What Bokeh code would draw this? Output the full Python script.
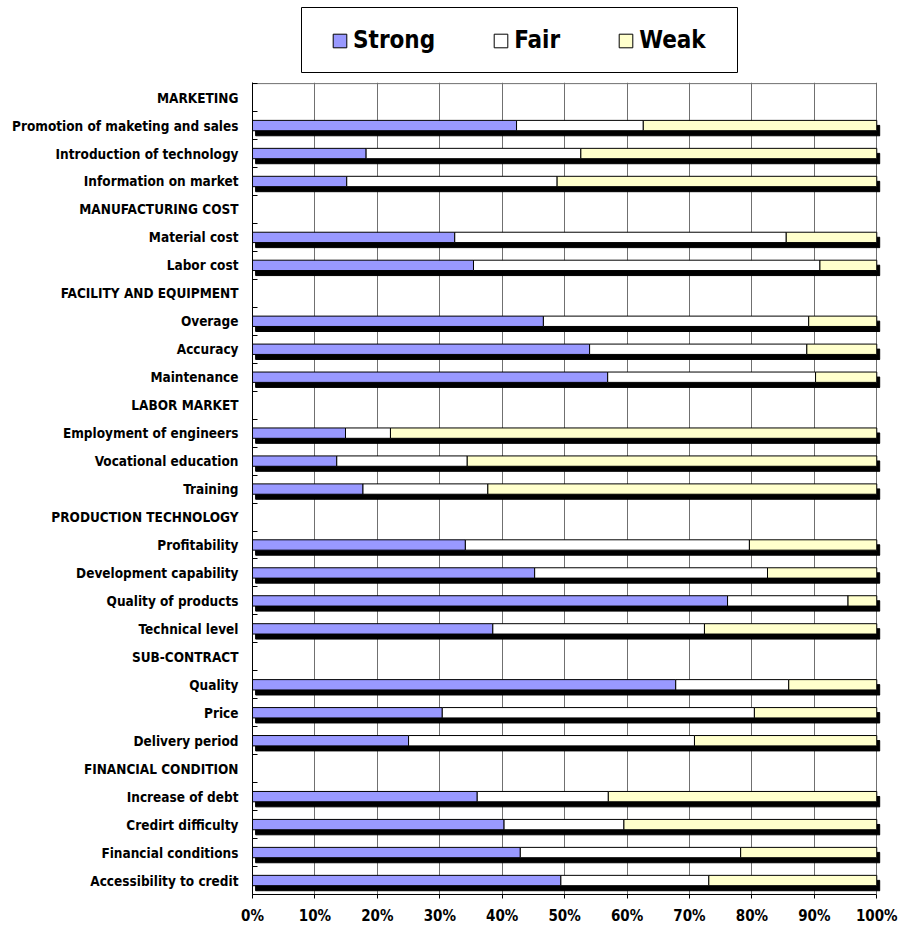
from bokeh.plotting import figure
from bokeh.layouts import column
from bokeh.models import (ColumnDataSource, FixedTicker, PrintfTickFormatter,
                          Legend, LegendItem, Range1d)
from bokeh.embed import file_html
from bokeh.resources import INLINE

# ---------------- data ----------------
rows = [
    "MARKETING",
    "Promotion of maketing and sales",
    "Introduction of technology",
    "Information on market",
    "MANUFACTURING COST",
    "Material cost",
    "Labor cost",
    "FACILITY AND EQUIPMENT",
    "Overage",
    "Accuracy",
    "Maintenance",
    "LABOR MARKET",
    "Employment of engineers",
    "Vocational education",
    "Training",
    "PRODUCTION TECHNOLOGY",
    "Profitability",
    "Development capability",
    "Quality of products",
    "Technical level",
    "SUB-CONTRACT",
    "Quality",
    "Price",
    "Delivery period",
    "FINANCIAL CONDITION",
    "Increase of debt",
    "Credirt difficulty",
    "Financial conditions",
    "Accessibility to credit",
]
groups = ["MARKETING", "MANUFACTURING COST", "FACILITY AND EQUIPMENT",
          "LABOR MARKET", "PRODUCTION TECHNOLOGY", "SUB-CONTRACT",
          "FINANCIAL CONDITION"]

series_names = ["Strong", "Fair", "Weak"]
# values (%) for the non-header rows, top to bottom
strong = [42.3, 18.2, 15.1, 32.4, 35.4, 46.6, 54.0, 56.9, 14.9, 13.5, 17.7,
          34.1, 45.2, 76.1, 38.5, 67.8, 30.4, 25.0, 36.0, 40.3, 42.9, 49.4]
fair = [20.3, 34.4, 33.7, 53.1, 55.5, 42.5, 34.8, 33.3, 7.2, 20.9, 20.0,
        45.5, 37.3, 19.3, 33.9, 18.1, 50.0, 45.8, 21.0, 19.2, 35.3, 23.7]
weak = [37.4, 47.4, 51.2, 14.5, 9.1, 10.9, 11.2, 9.8, 77.9, 65.6, 62.3,
        20.4, 17.5, 4.6, 27.6, 14.1, 19.6, 29.2, 43.0, 40.5, 21.8, 26.9]

x_ticks = [0, 10, 20, 30, 40, 50, 60, 70, 80, 90, 100]

# ---------------- styling ----------------
FONT = "DejaVu Sans Condensed"
C_STRONG = "#9999FF"
C_FAIR = "#FFFFFF"
C_WEAK = "#FFFFCC"
BAR_H = 0.37
SHADOW_DY = 0.18     # ~5 px down
SHADOW_DX = 0.5      # ~3 px right
W = 898
LEG_H = 82
MAIN_H = 937 - LEG_H
B_LEFT = 252
B_RIGHT = 18

n = len(rows)
item_rows = [i for i, r in enumerate(rows) if r not in groups]
ycent = [n - i - 0.5 for i in item_rows]

s_l = [0.0] * len(strong)
s_r = [a for a in strong]
f_l = s_r
f_r = [a + b for a, b in zip(strong, fair)]
w_l = f_r
w_r = [a + b + c for a, b, c in zip(strong, fair, weak)]

src = ColumnDataSource(dict(
    y=ycent, s_l=s_l, s_r=s_r, f_l=f_l, f_r=f_r, w_l=w_l, w_r=w_r,
    sh_y=[y - SHADOW_DY for y in ycent],
    sh_l=[v + SHADOW_DX for v in s_l],
    sh_r=[v + SHADOW_DX for v in w_r],
))

# ---------------- main chart ----------------
p = figure(width=W, height=MAIN_H, output_backend="svg", toolbar_location=None,
           x_range=Range1d(0, 100.6), y_range=Range1d(0, n + 0.04),
           min_border_left=B_LEFT, min_border_right=B_RIGHT,
           min_border_top=0, min_border_bottom=43)
p.outline_line_color = None
p.background_fill_color = "white"
p.border_fill_color = "white"

p.xgrid.ticker = FixedTicker(ticks=x_ticks[1:])
p.xgrid.grid_line_color = "#707070"
p.xgrid.grid_line_width = 1
p.ygrid.grid_line_color = None

# top frame line
p.segment(x0=[0], x1=[100], y0=[n], y1=[n], line_color="#707070", line_width=1)

# shadows
p.hbar(y="sh_y", left="sh_l", right="sh_r", height=BAR_H, source=src,
       fill_color="black", line_color="black", line_width=1)
# bars
p.hbar(y="y", left="s_l", right="s_r", height=BAR_H, source=src,
       fill_color=C_STRONG, line_color="black", line_width=1)
p.hbar(y="y", left="f_l", right="f_r", height=BAR_H, source=src,
       fill_color=C_FAIR, line_color="black", line_width=1)
p.hbar(y="y", left="w_l", right="w_r", height=BAR_H, source=src,
       fill_color=C_WEAK, line_color="black", line_width=1)

xa = p.xaxis[0]
xa.ticker = FixedTicker(ticks=x_ticks)
xa.formatter = PrintfTickFormatter(format="%d%%")
xa.bounds = (0, 100)
xa.axis_line_color = "black"
xa.major_tick_line_color = "black"
xa.major_tick_out = 4
xa.major_tick_in = 0
xa.minor_tick_line_color = None
xa.major_label_text_font = FONT
xa.major_label_text_font_style = "bold"
xa.major_label_text_font_size = "15px"
xa.major_label_text_color = "black"
xa.major_label_standoff = 8

ya = p.yaxis[0]
centers = [n - i - 0.5 for i in range(n)]
ya.ticker = FixedTicker(ticks=centers, minor_ticks=list(range(0, n + 1)))
ya.major_label_overrides = {c: r for c, r in zip(centers, rows)}
ya.axis_line_color = "black"
ya.major_tick_in = 0
ya.major_tick_out = 0
ya.minor_tick_in = 5
ya.minor_tick_out = 0
ya.minor_tick_line_color = "black"
ya.major_label_text_font = FONT
ya.major_label_text_font_style = "bold"
ya.major_label_text_font_size = "13.5px"
ya.major_label_text_color = "black"
ya.major_label_standoff = 14

# ---------------- legend strip (same horizontal frame as the chart) ----------------
lg = figure(width=W, height=LEG_H, output_backend="svg", toolbar_location=None,
            x_range=Range1d(B_LEFT, W - B_RIGHT), y_range=Range1d(0, LEG_H),
            x_axis_type=None, y_axis_type=None,
            min_border_left=B_LEFT, min_border_right=B_RIGHT,
            min_border_top=0, min_border_bottom=0)
lg.outline_line_color = None
lg.xgrid.visible = False
lg.ygrid.visible = False
lg.background_fill_color = "white"
lg.border_fill_color = "white"
# legend box (page-pixel coordinates)
lg.quad(left=[301], right=[737], top=[LEG_H - 7], bottom=[LEG_H - 72],
        fill_color="white", line_color="black", line_width=1)
dummy = ColumnDataSource(dict(y=[-1000], l=[0], r=[1]))
leg_rs = []
for col in (C_STRONG, C_FAIR, C_WEAK):
    leg_rs.append(lg.hbar(y="y", left="l", right="r", height=1, source=dummy,
                          fill_color=col, line_color="black", line_width=1))
legend = Legend(items=[LegendItem(label=nm, renderers=[r])
                       for nm, r in zip(series_names, leg_rs)],
                orientation="horizontal", location=(331 - B_LEFT, LEG_H - 54),
                border_line_color=None, background_fill_alpha=0,
                label_text_font=FONT, label_text_font_style="bold",
                label_text_font_size="24px", label_text_color="black",
                glyph_width=17, glyph_height=17, label_standoff=5,
                label_height=28, spacing=57, padding=0, margin=0)
lg.add_layout(legend)

layout = column(lg, p, spacing=0)
open("out.html", "w").write(file_html(layout, INLINE))
